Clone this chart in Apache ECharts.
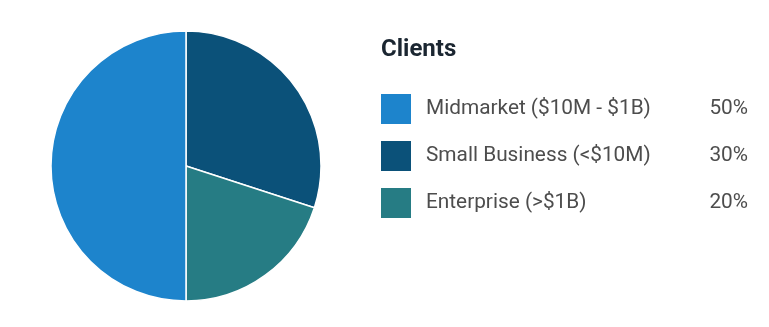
<!DOCTYPE html>
<html>
<head>
<meta charset="utf-8">
<script src="https://cdn.jsdelivr.net/npm/echarts@6/dist/echarts.min.js"></script>
<style>
html, body { margin: 0; padding: 0; background: #fff; }
#content { width: 769px; height: 327px; }
</style>
</head>
<body>
<div id="content"></div>
<script>
// drawing order (clockwise from top) and legend order differ
var names = ['Small Business (<$10M)', 'Enterprise (>$1B)', 'Midmarket ($10M - $1B)'];
var values = [30, 20, 50];
var colors = ['#0b5179', '#267c84', '#1d84cc'];
var legendOrder = ['Midmarket ($10M - $1B)', 'Small Business (<$10M)', 'Enterprise (>$1B)'];

var total = values.reduce(function (a, b) { return a + b; }, 0);
var pieData = names.map(function (n, i) {
    return {name: n, value: values[i], itemStyle: {color: colors[i]}};
});

var myChart = echarts.init(document.getElementById('content'));
myChart.setOption({
    textStyle: {fontFamily: 'Roboto'},
    title: {
        text: 'Clients',
        left: 376,
        top: 33,
        textStyle: {fontSize: 24, fontWeight: 'bold', color: '#1b2631', fontFamily: 'Roboto'}
    },
    legend: {
        orient: 'vertical',
        left: 376,
        top: 89,
        itemWidth: 30,
        itemHeight: 30,
        itemGap: 17,
        icon: 'rect',
        itemStyle: {borderWidth: 0},
        data: legendOrder,
        formatter: function (name) {
            var i = names.indexOf(name);
            var pct = Math.round(values[i] / total * 100) + '%';
            return '{n|' + name + '}{p|' + pct + '}';
        },
        textStyle: {
            fontSize: 20.8,
            color: '#4d4d4d',
            rich: {
                n: {width: 282, padding: [0, 0, 0, 10], fontSize: 20.8, color: '#4d4d4d'},
                p: {width: 40, align: 'right', fontSize: 20.8, color: '#4d4d4d'}
            }
        }
    },
    series: [{
        name: 'Clients',
        type: 'pie',
        center: [186, 166],
        radius: 135,
        startAngle: 90,
        clockwise: true,
        label: {show: false},
        labelLine: {show: false},
        itemStyle: {borderColor: '#fff', borderWidth: 1.5},
        emphasis: {disabled: true},
        data: pieData
    }]
});
</script>
</body>
</html>
